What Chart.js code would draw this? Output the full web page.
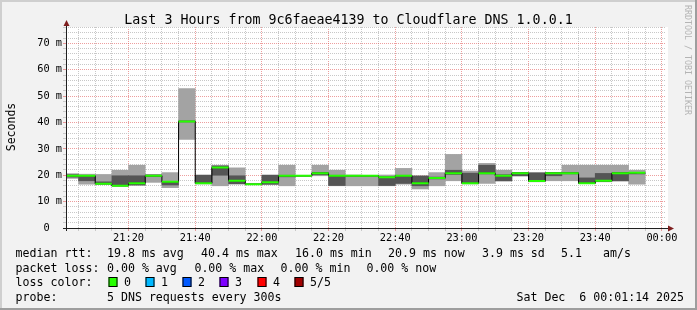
<!DOCTYPE html>
<html>
<head>
<meta charset="utf-8">
<script src="https://cdn.jsdelivr.net/npm/chart.js@4/dist/chart.umd.min.js"></script>
<style>
html, body { margin: 0; padding: 0; background: #f2f2f2; }
canvas { display: block; }
</style>
</head>
<body>
<canvas id="chart" width="697" height="310"></canvas>
<script>
// 5 minute slots (end of slot = sample time), last 3 hours
const slotTimes = ['21:00','21:05','21:10','21:15','21:20','21:25','21:30','21:35','21:40','21:45',
                   '21:50','21:55','22:00','22:05','22:10','22:15','22:20','22:25','22:30','22:35',
                   '22:40','22:45','22:50','22:55','23:00','23:05','23:10','23:15','23:20','23:25',
                   '23:30','23:35','23:40','23:45','23:50'];
// ping distribution per slot (ms): min, 2nd, median, 4th, max
const pingMin   = [18.8,16.6,16.5,15.9,16.2,17.3,15.3,33.6,16.7,16.0,16.6,16.4,16.4,16.0,19.6,19.8,16.0,16.0,
                   16.0,16.0,16.6,14.8,16.0,17.9,16.7,16.9,17.8,19.7,17.5,17.9,17.9,16.8,17.5,17.8,16.6];
const pingLow   = [19.3,17.9,16.7,16.0,16.3,19.5,16.3,40.2,16.8,20.0,16.8,16.5,16.6,19.4,19.7,20.2,16.1,19.6,
                   19.6,16.1,16.9,16.0,18.6,20.3,16.8,20.5,17.9,19.8,17.6,19.8,20.5,16.9,17.7,17.9,20.5];
const medianRtt = [19.8,19.8,16.8,16.0,17.0,19.8,17.5,40.4,17.0,22.9,17.9,16.6,17.3,19.8,19.8,20.8,19.8,19.8,
                   19.8,19.2,19.8,17.0,19.0,20.8,17.0,20.8,19.8,20.8,17.8,20.8,20.8,17.0,17.9,20.8,20.9];
const pingHigh  = [20.2,19.8,17.5,19.8,19.8,20.1,17.6,40.6,20.0,23.5,19.8,16.7,20.0,20.0,19.9,21.0,20.0,19.9,
                   19.9,19.4,20.0,19.7,19.3,21.9,20.8,23.8,20.2,20.9,20.9,21.0,21.0,19.0,20.7,21.0,21.0];
const pingMax   = [20.6,20.4,20.3,21.9,23.8,20.3,21.0,52.9,20.1,23.8,22.8,16.8,20.1,23.8,20.0,23.8,21.9,20.1,
                   20.0,20.1,22.6,19.8,21.0,27.9,21.6,24.5,21.9,21.1,21.0,21.1,23.8,23.8,23.8,23.8,21.9];

const xTickLabels = ['21:20','21:40','22:00','22:20','22:40','23:00','23:20','23:40','00:00'];
const yTickValues = [0, 10, 20, 30, 40, 50, 60, 70];
const yTickLabels = ['0  ','10 m','20 m','30 m','40 m','50 m','60 m','70 m'];

const lossLabels = ['0', '1', '2', '3', '4', '5/5'];
const lossColors = ['#26ff00', '#00b8ff', '#0059ff', '#7e00ff', '#ff0000', '#a00000'];

const titleText = 'Last 3 Hours from 9c6faeae4139 to Cloudflare DNS 1.0.0.1';
const stampText = 'Sat Dec  6 00:01:14 2025';

// minutes since 00:00 of the first day
function toMin(t) {
    const p = t.split(':').map(Number);
    let m = p[0] * 60 + p[1];
    if (p[0] < 12) m += 1440;
    return m;
}

const viewStart = 21 * 60 + 1.23;     // 21:01:14
const viewEnd = viewStart + 180;      // 00:01:14
const slotStart = slotTimes.map(toMin);
const xTickMinutes = xTickLabels.map(toMin);

const xGrid = [];
for (let m = 1265; m <= 1440; m += 5) xGrid.push(m);
const yGrid = [];
for (let v = 0; v <= 76; v += 2) yGrid.push(v);

const lightBand = slotStart.map((s, i) => ({ x: s + 2.5, y: [pingMin[i], pingMax[i]] }));
const darkBand = slotStart.map((s, i) => ({ x: s + 2.5, y: [pingLow[i], pingHigh[i]] }));
const medianStep = slotStart.map((s, i) => ({ x: s + 2.5, y: medianRtt[i] }));
const medianSeg = [];
slotStart.forEach((s, i) => {
    medianSeg.push({ x: s, y: medianRtt[i] });
    medianSeg.push({ x: s + 5, y: medianRtt[i] });
    medianSeg.push({ x: s + 5, y: null });
});

const MONO = "'DejaVu Sans Mono', monospace";
const GRID = '#c8c8c8';
const MGRID = 'rgba(222,79,79,0.55)';

// rrdtool look: frame, axes with arrows, title and legend
const rrdFrame = {
    id: 'rrdFrame',
    beforeDraw(chart) {
        const ctx = chart.ctx, a = chart.chartArea;
        const W = chart.width, H = chart.height;
        ctx.save();
        ctx.fillStyle = '#f2f2f2';
        ctx.fillRect(0, 0, W, H);
        ctx.fillStyle = '#cfcfcf';
        ctx.fillRect(0, 0, W, 2);
        ctx.fillRect(0, 0, 2, H);
        ctx.fillStyle = '#9e9e9e';
        ctx.fillRect(0, H - 2, W, 2);
        ctx.fillRect(W - 2, 0, 2, H);
        ctx.fillStyle = '#ffffff';
        ctx.fillRect(a.left, a.top, a.right - a.left + 2, a.bottom - a.top);
        ctx.restore();
    },
    afterDraw(chart) {
        const ctx = chart.ctx, a = chart.chartArea;
        ctx.save();
        // axes
        ctx.strokeStyle = '#1f1f1f';
        ctx.lineWidth = 1;
        ctx.beginPath();
        ctx.moveTo(a.left - 3, a.bottom + 0.5);
        ctx.lineTo(a.right + 3, a.bottom + 0.5);
        ctx.moveTo(a.left + 0.5, a.bottom + 3);
        ctx.lineTo(a.left + 0.5, a.top - 2);
        ctx.stroke();
        ctx.fillStyle = '#7f1f1f';
        ctx.beginPath();
        ctx.moveTo(a.right + 8, a.bottom + 0.5);
        ctx.lineTo(a.right + 2, a.bottom - 2.5);
        ctx.lineTo(a.right + 2, a.bottom + 3.5);
        ctx.closePath();
        ctx.fill();
        ctx.beginPath();
        ctx.moveTo(a.left + 0.5, a.top - 7);
        ctx.lineTo(a.left - 2.5, a.top - 1);
        ctx.lineTo(a.left + 3.5, a.top - 1);
        ctx.closePath();
        ctx.fill();

        // title
        ctx.fillStyle = '#000';
        ctx.font = '13.3px ' + MONO;
        ctx.textAlign = 'center';
        ctx.textBaseline = 'alphabetic';
        ctx.fillText(titleText, 348.5, 24);

        // vertical label
        ctx.font = '11.5px ' + MONO;
        ctx.save();
        ctx.translate(15, 127);
        ctx.rotate(-Math.PI / 2);
        ctx.fillText('Seconds', 0, 0);
        ctx.restore();

        // watermark
        ctx.save();
        ctx.fillStyle = '#b4b4b4';
        ctx.font = '8.3px ' + MONO;
        ctx.translate(685, 60);
        ctx.rotate(Math.PI / 2);
        ctx.fillText('RRDTOOL / TOBI OETIKER', 0, 0);
        ctx.restore();

        // legend
        ctx.font = '11.6px ' + MONO;
        ctx.textAlign = 'left';
        ctx.fillStyle = '#000';
        const rows = [
            [257, [[15.6, 'median rtt:'], [107, '19.8 ms avg'], [201, '40.4 ms max'], [295, '16.0 ms min'],
                   [388, '20.9 ms now'], [482, '3.9 ms sd'], [561, '5.1'], [603, 'am/s']]],
            [271.5, [[15.6, 'packet loss:'], [107, '0.00 % avg'], [194.4, '0.00 % max'], [280.6, '0.00 % min'],
                     [366.4, '0.00 % now']]],
            [286, [[15.6, 'loss color:']]],
            [300.5, [[15.6, 'probe:'], [107, '5 DNS requests every 300s']]]
        ];
        rows.forEach(([y, items]) => items.forEach(([x, t]) => ctx.fillText(t, x, y)));
        const boxX = [108.5, 145.5, 182.5, 219.5, 257.5, 294.5];
        lossLabels.forEach((lab, i) => {
            ctx.fillStyle = lossColors[i];
            ctx.fillRect(boxX[i], 277, 9, 10);
            ctx.strokeStyle = '#000';
            ctx.strokeRect(boxX[i] + 0.5, 277.5, 8, 9);
            ctx.fillStyle = '#000';
            ctx.fillText(lab, boxX[i] + 15.5, 286);
        });
        ctx.textAlign = 'right';
        ctx.fillText(stampText, 684, 300.5);
        ctx.restore();
    }
};

new Chart(document.getElementById('chart'), {
    type: 'bar',
    data: {
        datasets: [
            { type: 'bar', data: lightBand, backgroundColor: '#a3a3a3', order: 4 },
            { type: 'bar', data: darkBand, backgroundColor: '#555555', order: 3 },
            { type: 'line', data: medianStep, stepped: 'middle', borderColor: '#000', borderWidth: 1,
              pointRadius: 0, order: 2 },
            { type: 'line', data: medianSeg, borderColor: lossColors[0], borderWidth: 2,
              pointRadius: 0, spanGaps: false, order: 1 }
        ]
    },
    options: {
        responsive: false,
        animation: false,
        events: [],
        layout: { padding: { top: 27, right: 31, bottom: 0, left: 0 } },
        datasets: { bar: { barPercentage: 1, categoryPercentage: 1, grouped: false, borderWidth: 0 } },
        plugins: { legend: { display: false }, tooltip: { enabled: false }, title: { display: false } },
        scales: {
            x: {
                type: 'linear',
                min: viewStart,
                max: viewEnd,
                offset: false,
                afterBuildTicks: (s) => { s.ticks = xGrid.map(v => ({ value: v })); },
                afterFit: (s) => { s.height = 82; },
                grid: {
                    offset: false,
                    color: (c) => (c.tick && xTickMinutes.includes(c.tick.value)) ? MGRID : GRID,
                    tickLength: 3
                },
                border: { display: false, dash: [1, 1] },
                ticks: {
                    autoSkip: false,
                    maxRotation: 0,
                    padding: 1,
                    color: '#000',
                    font: { family: MONO, size: 10.3 },
                    callback: (v) => {
                        const i = xTickMinutes.indexOf(v);
                        return i >= 0 ? xTickLabels[i] : '';
                    }
                }
            },
            y: {
                type: 'linear',
                min: 0,
                max: 76.2,
                afterBuildTicks: (s) => { s.ticks = yGrid.map(v => ({ value: v })); },
                afterFit: (s) => { s.width = 66; },
                grid: {
                    color: (c) => (c.tick && yTickValues.includes(c.tick.value)) ? MGRID : GRID,
                    tickLength: 3
                },
                border: { display: false, dash: [1, 1] },
                ticks: {
                    autoSkip: false,
                    padding: 1,
                    color: '#000',
                    font: { family: MONO, size: 10.3 },
                    callback: (v) => {
                        const i = yTickValues.indexOf(v);
                        return i >= 0 ? yTickLabels[i] : '';
                    }
                }
            }
        }
    },
    plugins: [rrdFrame]
});
</script>
</body>
</html>
